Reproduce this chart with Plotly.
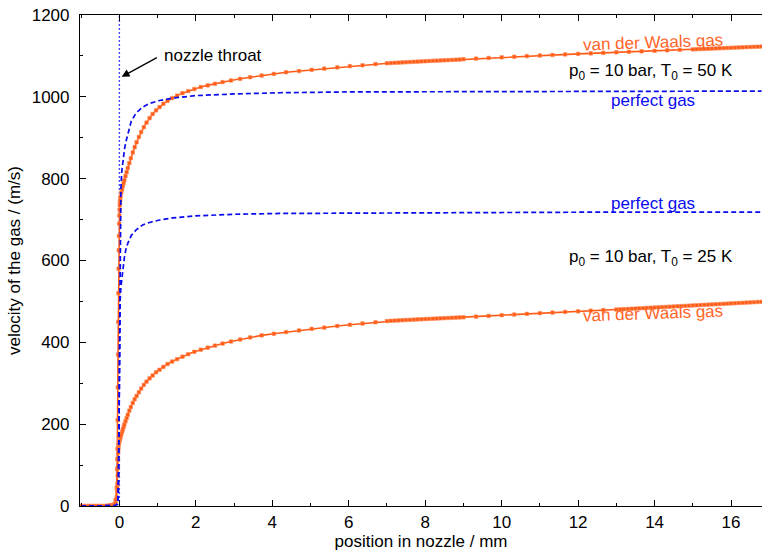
import plotly.graph_objects as go

# ---------------- data ----------------
x_vdw_head = [-1.0, -0.9, -0.8, -0.7, -0.6, -0.5, -0.4, -0.3, -0.25, -0.2, -0.15, -0.1, -0.07, -0.06, -0.055,
              -0.05, -0.045, -0.04, -0.035, -0.03, -0.025, -0.02, -0.015, -0.01, -0.005, 0.0, 0.005, 0.01,
              0.015, 0.02, 0.03, 0.05, 0.07, 0.09, 0.11, 0.13, 0.16, 0.19, 0.22,
              0.26, 0.30, 0.35, 0.40, 0.45, 0.51, 0.57, 0.64, 0.71, 0.79, 0.87, 0.96, 1.05, 1.15, 1.26,
              1.38, 1.51, 1.65, 1.80, 1.96, 2.13, 2.31, 2.50, 2.70, 2.92, 3.16, 3.42, 3.72, 4.04, 4.36,
              4.70, 5.03, 5.36, 5.70, 6.03, 6.36, 6.70, 7.00, 7.1, 7.2, 7.3, 7.4, 7.5, 7.6, 7.7, 7.8, 7.9,
              8.0, 8.1, 8.2, 8.3, 8.4, 8.5, 8.6, 8.7, 8.8, 8.9, 9.00, 9.33, 9.66, 10.00, 10.33, 10.66,
              11.00, 11.33, 11.66, 12.00, 12.33, 12.66, 13.00]

v_vdw50_head = [0, 0, 0, 0, 0, 0, 0, 1, 1, 2, 4, 15, 45, 90, 115,
                140, 210, 290, 370, 450, 520, 580, 625, 660, 690, 710, 724, 735,
                742, 748, 756, 766, 774, 782, 789, 796, 806, 816, 826,
                838, 850, 864, 877, 889, 902, 914, 926, 937, 948, 958, 967, 975, 983, 990,
                997, 1003, 1009, 1014, 1019, 1024, 1028, 1032, 1036, 1040, 1044, 1048, 1052, 1056, 1060,
                1063, 1066, 1069, 1072, 1075, 1077, 1080, 1082, 1082.6, 1083.1, 1083.6, 1084.1, 1084.6,
                1085.1, 1085.6, 1086.1, 1086.6, 1087.0, 1087.5, 1088.0, 1088.4, 1088.9, 1089.3, 1089.8,
                1090.2, 1090.7, 1091.1, 1092, 1093.5, 1095, 1096.5, 1098, 1099.5,
                1101, 1102.3, 1103.6, 1105, 1106.2, 1107.5, 1108.8]

v_vdw25_head = [0, 0, 0, 0, 0, 0, 0, 0, 1, 1, 2, 6, 20, 38, 46,
                55, 75, 95, 113, 130, 140, 148, 152, 155, 158, 160, 161.5, 163,
                164.5, 166, 169, 175, 181, 187, 193, 199, 207, 215, 223,
                233, 242, 252, 261, 269, 278, 287, 296, 304, 312, 319, 327, 333, 340, 347,
                353, 359, 365, 371, 377, 382, 387, 392, 397, 402, 407, 412, 417, 421, 425,
                429, 433, 436, 440, 443, 446, 449, 452, 452.6, 453.1, 453.6, 454.1, 454.6,
                455.0, 455.5, 456.0, 456.4, 456.9, 457.3, 457.8, 458.2, 458.7, 459.1, 459.5,
                460.0, 460.4, 460.8, 461.2, 462.9, 464.6, 466.3, 468, 469.6,
                471.2, 472.8, 474.3, 475.8, 477.3, 478.8, 480.2]

x_vdw50_tail = [13.33, 13.66, 14.00, 14.33, 14.66, 15.0, 15.1, 15.2, 15.3, 15.4, 15.5, 15.6, 15.7, 15.8,
                15.9, 16.0, 16.1, 16.2, 16.3, 16.4, 16.5, 16.6, 16.7, 16.8]
v_vdw50_tail = [1110, 1111.2, 1112.5, 1113.7, 1114.9, 1116, 1116.4, 1116.8, 1117.2, 1117.6, 1118.0, 1118.3,
                1118.7, 1119.1, 1119.5, 1119.9, 1120.3, 1120.7, 1121.0, 1121.4, 1121.8, 1122.2, 1122.5, 1122.9]

x_vdw25_tail = [13.1, 13.2, 13.3, 13.4, 13.5, 13.6, 13.7, 13.8, 13.9, 14.0, 14.1, 14.2, 14.3, 14.4, 14.5,
                14.6, 14.7, 14.8, 14.9, 15.0, 15.1, 15.2, 15.3, 15.4, 15.5, 15.6, 15.7, 15.8, 15.9, 16.0,
                16.1, 16.2, 16.3, 16.4, 16.5, 16.6, 16.7, 16.8]
v_vdw25_tail = [480.6, 481.1, 481.6, 482.1, 482.6, 483.1, 483.6, 484.1, 484.6, 485.1, 485.6, 486.1, 486.6,
                487.1, 487.6, 488.1, 488.6, 489.1, 489.6, 490.1, 490.6, 491.1, 491.6, 492.1, 492.6, 493.1,
                493.6, 494.1, 494.6, 495.1, 495.6, 496.1, 496.6, 497.1, 497.6, 498.1, 498.6, 499.1]

x_perfect = [-1.0, -0.5, -0.2, -0.1, -0.05, -0.03, -0.02, -0.01, 0.0, 0.01, 0.02, 0.04, 0.06, 0.09, 0.13,
             0.17, 0.22, 0.31, 0.44, 0.61, 0.79, 1.05, 1.4, 2.0, 3.0, 4.2, 6.0, 9.0, 12.0, 16.8]
v_perfect50 = [0, 0, 0, 1, 5, 30, 100, 250, 450, 600, 690, 775, 815, 845, 870,
               890, 910, 940, 961, 975, 984, 991, 997, 1003, 1007, 1010, 1012, 1013, 1014, 1014]
v_perfect25 = [0, 0, 0, 1, 5, 30, 90, 200, 350, 440, 503, 535, 555, 578, 607,
               627, 642, 661, 675, 687, 693, 699, 704, 709, 713, 715, 716, 717, 718, 718]

throat_x = 0.0
x_range = [-1.03, 16.81]
y_range = [0, 1200]
x_ticks = [0, 2, 4, 6, 8, 10, 12, 14, 16]
y_ticks = [0, 200, 400, 600, 800, 1000, 1200]

ORANGE = "#ff5a14"
ORANGE_TXT = "#ff6428"
BLUE = "#0a0af0"
FONT = "Liberation Sans, Arial, Helvetica, sans-serif"
FS = 17

fig = go.Figure()

# throat
fig.add_trace(go.Scatter(x=[throat_x, throat_x], y=y_range, mode="lines",
                         line=dict(color="#4a4aff", width=1.4, dash="2px,2px"), hoverinfo="skip"))

for xs, vs in [(x_vdw_head + x_vdw50_tail, v_vdw50_head + v_vdw50_tail),
               (x_vdw_head + x_vdw25_tail, v_vdw25_head + v_vdw25_tail)]:
    fig.add_trace(go.Scatter(x=xs, y=vs, mode="lines+markers",
                             line=dict(color=ORANGE, width=1.6),
                             marker=dict(symbol="square", size=3.5, color=ORANGE,
                                         line=dict(color="rgba(255,140,90,0.6)", width=1))))

for vs in [v_perfect50, v_perfect25]:
    fig.add_trace(go.Scatter(x=x_perfect, y=vs, mode="lines",
                             line=dict(color=BLUE, width=1.7, dash="5px,3px")))

ann = []
ann.append(dict(x=throat_x + 0.06, y=1049, ax=1.02, ay=1098, xref="x", yref="y", axref="x", ayref="y",
                showarrow=True, arrowhead=2, arrowsize=1.2, arrowwidth=1.3, arrowcolor="black", text=""))
ann.append(dict(x=1.12, y=1100, text="nozzle throat", showarrow=False, xanchor="left",
                font=dict(color="black", size=FS, family=FONT)))
ann.append(dict(x=13.96, y=1134, text="van der Waals gas", showarrow=False, textangle=-2,
                font=dict(color=ORANGE_TXT, size=FS, family=FONT)))
ann.append(dict(x=13.9, y=1060, text="p<sub>0</sub> = 10 bar, T<sub>0</sub> = 50 K", showarrow=False,
                font=dict(color="black", size=FS, family=FONT)))
ann.append(dict(x=13.96, y=990, text="perfect gas", showarrow=False,
                font=dict(color=BLUE, size=FS, family=FONT)))
ann.append(dict(x=13.96, y=740, text="perfect gas", showarrow=False,
                font=dict(color=BLUE, size=FS, family=FONT)))
ann.append(dict(x=13.9, y=605, text="p<sub>0</sub> = 10 bar, T<sub>0</sub> = 25 K", showarrow=False,
                font=dict(color="black", size=FS, family=FONT)))
ann.append(dict(x=13.96, y=470, text="van der Waals gas", showarrow=False, textangle=-2,
                font=dict(color=ORANGE_TXT, size=FS, family=FONT)))

fig.update_layout(
    width=762, height=554,
    margin=dict(l=80, r=0, t=15, b=48),
    paper_bgcolor="white", plot_bgcolor="white",
    showlegend=False,
    font=dict(family=FONT, size=FS, color="black"),
    annotations=ann,
)
fig.update_xaxes(range=x_range, tickvals=x_ticks, ticks="inside", ticklen=6, tickwidth=1, tickcolor="black",
                 showline=True, linecolor="black", linewidth=1.2, mirror="ticks", showgrid=False, zeroline=False,
                 minor=dict(dtick=1, tick0=0, ticks="inside", ticklen=3, tickcolor="black", showgrid=False),
                 title=dict(text="position in nozzle / mm", standoff=4, font=dict(size=FS)),
                 tickfont=dict(size=FS))
fig.update_yaxes(range=y_range, tickvals=y_ticks, ticks="inside", ticklen=6, tickwidth=1, tickcolor="black",
                 showline=True, linecolor="black", linewidth=1.2, mirror=False, showgrid=False, zeroline=False,
                 minor=dict(dtick=100, tick0=0, ticks="inside", ticklen=3, tickcolor="black", showgrid=False),
                 title=dict(text="velocity of the gas / (m/s)", standoff=6, font=dict(size=FS)),
                 tickfont=dict(size=FS), ticklabelstandoff=6)

fig.write_html("out.html")
